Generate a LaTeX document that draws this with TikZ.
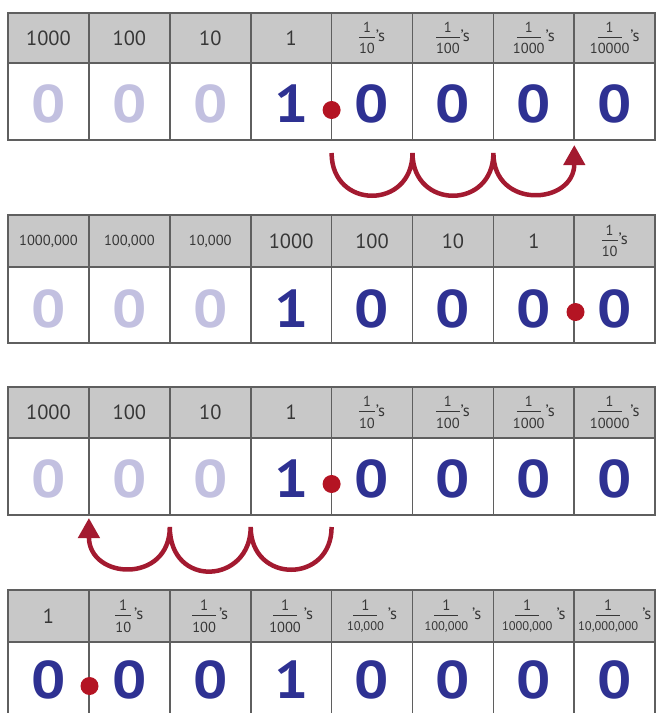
\documentclass[tikz,border=0pt]{standalone}
\usepackage{fontspec}
\setmainfont{PT Sans}
\newfontfamily\digfont{PT Sans}[FakeStretch=1.14]
\usetikzlibrary{arrows.meta}
\definecolor{hdr}{RGB}{200,200,200}
\definecolor{gridc}{RGB}{95,95,95}
\definecolor{txt}{RGB}{55,55,55}
\definecolor{blu}{RGB}{46,49,146}
\definecolor{fade}{RGB}{194,192,224}
\definecolor{dotred}{RGB}{180,20,35}
\definecolor{arcred}{RGB}{163,26,48}

\newsavebox\denbox
\newlength\barw
\newcommand\fr[4]{%
  \sbox\denbox{\fontsize{#2}{#2}\selectfont #4}%
  \setlength\barw{\wd\denbox}%
  \ifdim\barw>24pt \setlength\barw{24pt}\fi
  $\vcenter{\hbox{\shortstack{\fontsize{#1}{#1}\selectfont 1\\\raisebox{0pt}[2.5pt][3pt]{\rule{\barw}{0.8pt}}\\\usebox\denbox}}}$%
  \kern#3\raisebox{1.5pt}{\fontsize{16.5}{16.5}\selectfont ’s}}
\newcommand\frA[1]{\fr{14.5}{14.5}{1pt}{#1}}
\newcommand\frB[1]{\fr{15}{14.5}{3pt}{#1}}
\newcommand\frC[1]{\fr{15}{12.5}{4pt}{#1}}
\newcommand\hs{\fontsize{14.5}{14.5}\selectfont}

\newcommand\ptable[3]{%
  \fill[hdr] (8,#1) rectangle (655.2,#2);
  \draw[gridline] (8,#2) -- (655.2,#2);
  \foreach \k in {1,...,7} \draw[gridline] ({8+80.9*\k},#1) -- ({8+80.9*\k},#3);
  \draw[gridline] (8,#1) rectangle (655.2,#3);}

\begin{document}
\begin{tikzpicture}[x=1pt,y=-1pt,
  hd/.style={inner sep=0pt,text=txt,font=\fontsize{20.5}{20.5}\selectfont},
  dg/.style={inner sep=0pt,anchor=base,font=\digfont\bfseries\fontsize{53}{53}\selectfont},
  dotnode/.style={circle,fill=dotred,minimum size=18pt,inner sep=0pt},
  gridline/.style={draw=gridc,line width=1.7pt,line join=miter},
  hop/.style={draw=arcred,line width=4.5pt,-{Triangle[length=20pt,width=21pt]}}]
\useasboundingbox (0,0) rectangle (656,713);
\clip (0,0) rectangle (656,713);

% ---------- Table 1 ----------
\ptable{13}{63}{140}
\foreach \h [count=\i] in {1000,100,10,1,{\frA{10}},{\frA{100}},{\frA{1000}},{\frA{10000}}}
  \node[hd] (t1h\i) at ({8+80.9*(\i-0.5)},38) {\h};
\foreach \cl/\v [count=\i] in {fade/0,fade/0,fade/0,blu/1,blu/0,blu/0,blu/0,blu/0}
  \node[dg,text=\cl] (t1d\i) at ({8+80.9*(\i-0.5)},122) {\v};
\node[dotnode] (dot1) at (331.6,110) {};
\coordinate (a1) at (331.6,153);
\coordinate (a2) at (412.5,153);
\coordinate (a3) at (493.4,153);
\coordinate (a4) at (574.3,145);
\draw[hop] (a1) .. controls +(0,57) and +(0,57) .. (a2)
               .. controls +(0,57) and +(0,57) .. (a3)
               .. controls +(0,57) and +(0,60) .. (a4);

% ---------- Table 2 ----------
\ptable{215}{267}{343}
\foreach \h [count=\i] in {{\hs 1000,000},{\hs 100,000},{\hs 10,000},1000,100,10,1,{\frA{10}}}
  \node[hd] (t2h\i) at ({8+80.9*(\i-0.5)},241) {\h};
\foreach \cl/\v [count=\i] in {fade/0,fade/0,fade/0,blu/1,blu/0,blu/0,blu/0,blu/0}
  \node[dg,text=\cl] (t2d\i) at ({8+80.9*(\i-0.5)},327) {\v};
\node[dotnode] (dot2) at (575.5,312) {};

% ---------- Table 3 ----------
\ptable{387}{438}{515}
\foreach \h [count=\i] in {1000,100,10,1,{\frA{10}},{\frA{100}},{\frA{1000}},{\frA{10000}}}
  \node[hd] (t3h\i) at ({8+80.9*(\i-0.5)},412.5) {\h};
\foreach \cl/\v [count=\i] in {fade/0,fade/0,fade/0,blu/1,blu/0,blu/0,blu/0,blu/0}
  \node[dg,text=\cl] (t3d\i) at ({8+80.9*(\i-0.5)},497) {\v};
\node[dotnode] (dot3) at (331.6,484) {};
\coordinate (b1) at (331.6,527);
\coordinate (b2) at (250.7,527);
\coordinate (b3) at (169.8,527);
\coordinate (b4) at (88.9,518);
\draw[hop] (b1) .. controls +(0,57) and +(0,57) .. (b2)
               .. controls +(0,57) and +(0,62) .. (b3)
               .. controls +(0,57) and +(0,62) .. (b4);

% ---------- Table 4 ----------
\ptable{590}{642}{730}
\foreach \h [count=\i] in {1,{\frB{10}},{\frB{100}},{\frB{1000}},{\frC{10,000}},{\frC{100,000}},{\frC{1000,000}},{\frC{10,000,000}}}
  \node[hd] (t4h\i) at ({8+80.9*(\i-0.5)},616) {\h};
\foreach \cl/\v [count=\i] in {blu/0,blu/0,blu/0,blu/1,blu/0,blu/0,blu/0,blu/0}
  \node[dg,text=\cl] (t4d\i) at ({8+80.9*(\i-0.5)},698) {\v};
\node[dotnode] (dot4) at (89.5,686) {};
\end{tikzpicture}
\end{document}
